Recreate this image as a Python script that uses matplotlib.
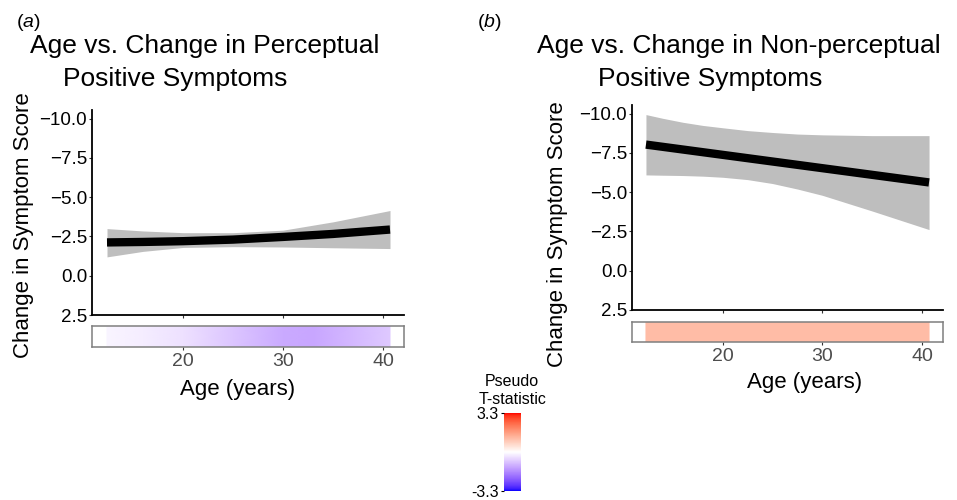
import numpy as np
import matplotlib
matplotlib.use("Agg")
import matplotlib.pyplot as plt
from matplotlib.colors import ListedColormap, Normalize
from matplotlib.cm import ScalarMappable

plt.rcParams['font.family'] = ['Liberation Sans', 'DejaVu Sans']
plt.rcParams['mathtext.fontset'] = 'custom'
plt.rcParams['mathtext.rm'] = 'Liberation Sans'
plt.rcParams['mathtext.it'] = 'Liberation Sans:italic'

# ---------------- data ----------------
# panel (a): perceptual positive symptoms
age_a = [12.4, 16, 20, 25, 30, 35, 40.7]
fit_a = [-2.12, -2.15, -2.2, -2.3, -2.47, -2.66, -2.94]
upper_a = [-3.0, -2.85, -2.74, -2.74, -2.9, -3.43, -4.15]
lower_a = [-1.2, -1.55, -1.8, -1.85, -1.83, -1.78, -1.73]
strip_age_a = [12.4, 16, 20, 25, 30, 33, 37, 40.7]
strip_t_a = [-0.15, -0.25, -0.42, -0.8, -1.2, -1.25, -1.0, -0.75]

# panel (b): non-perceptual positive symptoms
line_age_b = [12.3, 40.7]
fit_b = [-8.03, -5.62]
age_b = [12.3, 14, 16, 18, 20, 22.5, 25, 27.5, 30, 35, 40.7]
upper_b = [-9.94, -9.7, -9.45, -9.25, -9.1, -8.92, -8.8, -8.7, -8.65, -8.6, -8.6]
lower_b = [-6.1, -6.08, -6.06, -6.02, -5.95, -5.8, -5.55, -5.2, -4.8, -3.8, -2.62]
strip_age_b = [12.3, 40.7]
strip_t_b = [1.15, 1.15]

y_ticks = [-10.0, -7.5, -5.0, -2.5, 0.0, 2.5]
x_ticks = [20, 30, 40]
t_limit = 3.3

titles = ["Age vs. Change in Perceptual", "Age vs. Change in Non-perceptual"]
title2 = "Positive Symptoms"
panel_tags = ["a", "b"]

# ---------------- colormap (Lab interpolation blue-white-red) ----------------
def srgb_to_lab(rgb):
    rgb = np.asarray(rgb, float)
    lin = np.where(rgb <= 0.04045, rgb / 12.92, ((rgb + 0.055) / 1.055) ** 2.4)
    M = np.array([[0.4124, 0.3576, 0.1805], [0.2126, 0.7152, 0.0722], [0.0193, 0.1192, 0.9505]])
    xyz = M @ lin / np.array([0.95047, 1.0, 1.08883])
    f = np.where(xyz > 0.008856, np.cbrt(xyz), 7.787 * xyz + 16 / 116)
    return np.array([116 * f[1] - 16, 500 * (f[0] - f[1]), 200 * (f[1] - f[2])])

def lab_to_srgb(lab):
    L, a, b = lab
    fy = (L + 16) / 116
    fx = fy + a / 500
    fz = fy - b / 200
    f = np.array([fx, fy, fz])
    xyz = np.where(f ** 3 > 0.008856, f ** 3, (f - 16 / 116) / 7.787) * np.array([0.95047, 1.0, 1.08883])
    Mi = np.array([[3.2406, -1.5372, -0.4986], [-0.9689, 1.8758, 0.0415], [0.0557, -0.2040, 1.0570]])
    lin = np.clip(Mi @ xyz, 0, 1)
    s = np.where(lin <= 0.0031308, 12.92 * lin, 1.055 * lin ** (1 / 2.4) - 0.055)
    return np.clip(s, 0, 1)

lab_w = srgb_to_lab([1, 1, 1])
lab_b = srgb_to_lab([0, 0, 1])
lab_r = srgb_to_lab([1, 0, 0])
cols = []
for v in np.linspace(-1, 1, 256):
    end = lab_b if v < 0 else lab_r
    cols.append(lab_to_srgb(lab_w + abs(v) * (end - lab_w)))
cmap = ListedColormap(cols)
norm = Normalize(-t_limit, t_limit)

# ---------------- layout ----------------
W, H = 957, 500
fig = plt.figure(figsize=(W / 100, H / 100), dpi=100)

def rect(x0, y0, x1, y1):
    return [x0 / W, 1 - y1 / H, (x1 - x0) / W, (y1 - y0) / H]

panels = [
    dict(main=(92, 110, 404, 315), strip=(92, 326, 404, 347),
         age=age_a, upper=upper_a, lower=lower_a, line_age=age_a, fit=fit_a,
         s_age=strip_age_a, s_t=strip_t_a,
         tag=(16, 27), t1=(30, 53), t2=(63, 86), ylab=(24, 225), xlab=(238, 395)),
    dict(main=(632, 105, 943, 310), strip=(632, 322, 943, 342),
         age=age_b, upper=upper_b, lower=lower_b, line_age=line_age_b, fit=fit_b,
         s_age=strip_age_b, s_t=strip_t_b,
         tag=(477, 27), t1=(537, 53), t2=(598, 86), ylab=(557, 234), xlab=(805, 388)),
]

xlim = (10.9, 42.1)
for i, p in enumerate(panels):
    ax = fig.add_axes(rect(*p['main']))
    ax.fill_between(p['age'], p['upper'], p['lower'], color='#BEBEBE', lw=0)
    ax.plot(p['line_age'], p['fit'], color='black', lw=6, solid_capstyle='butt')
    ax.set_xlim(*xlim)
    ax.set_ylim(2.5, -10.55)
    ax.set_yticks(y_ticks)
    ax.set_yticklabels([f"{v:.1f}".replace('-', '\u2212') for v in y_ticks])
    ax.set_xticks(x_ticks)
    ax.set_xticklabels([])
    for s in ['top', 'right']:
        ax.spines[s].set_visible(False)
    for s in ['left', 'bottom']:
        ax.spines[s].set_linewidth(1.3)
    ax.tick_params(axis='y', length=2.5, width=0.8, color='#333333', labelsize=13.5,
                   labelcolor='black', pad=1)
    ax.tick_params(axis='x', length=2.5, width=0.8, color='#333333')

    sx = fig.add_axes(rect(*p['strip']))
    sx.pcolormesh(p['s_age'], [0, 1], np.vstack([p['s_t'], p['s_t']]), shading='gouraud',
                  cmap=cmap, norm=norm)
    sx.set_xlim(*xlim)
    sx.set_ylim(0, 1)
    sx.set_yticks([])
    sx.set_xticks(x_ticks)
    sx.set_xticklabels([str(v) for v in x_ticks])
    sx.tick_params(axis='x', length=2.5, width=0.8, color='#333333', labelsize=14,
                   labelcolor='#4D4D4D', pad=2)
    for s in sx.spines.values():
        s.set_color('#7F7F7F')
        s.set_linewidth(1.1)

    fig.text(p['tag'][0] / W, 1 - p['tag'][1] / H, "($\\mathit{" + panel_tags[i] + "}$)",
             fontsize=14, va='baseline')
    fig.text(p['t1'][0] / W, 1 - p['t1'][1] / H, titles[i], fontsize=19, va='baseline')
    fig.text(p['t2'][0] / W, 1 - p['t2'][1] / H, title2, fontsize=19, va='baseline')
    fig.text(p['ylab'][0] / W, 1 - p['ylab'][1] / H, "Change in Symptom Score", fontsize=16,
             rotation=90, ha='center', va='center')
    fig.text(p['xlab'][0] / W, 1 - p['xlab'][1] / H, "Age (years)", fontsize=16,
             ha='center', va='baseline')

# legend colorbar
cax = fig.add_axes(rect(504, 413, 521, 491))
cb = fig.colorbar(ScalarMappable(norm=norm, cmap=cmap), cax=cax)
cb.outline.set_visible(False)
cb.set_ticks([-t_limit, t_limit])
cb.set_ticklabels([f"-{t_limit}", f"{t_limit}"])
cax.yaxis.set_ticks_position('left')
cax.tick_params(length=2.5, width=0.8, labelsize=11.5, pad=1)
fig.text(512 / W, 1 - 382 / H, "Pseudo", fontsize=11.5, ha='center', va='center')
fig.text(513 / W, 1 - 400 / H, "T-statistic", fontsize=11.5, ha='center', va='center')

fig.savefig("out.png", dpi=100)
